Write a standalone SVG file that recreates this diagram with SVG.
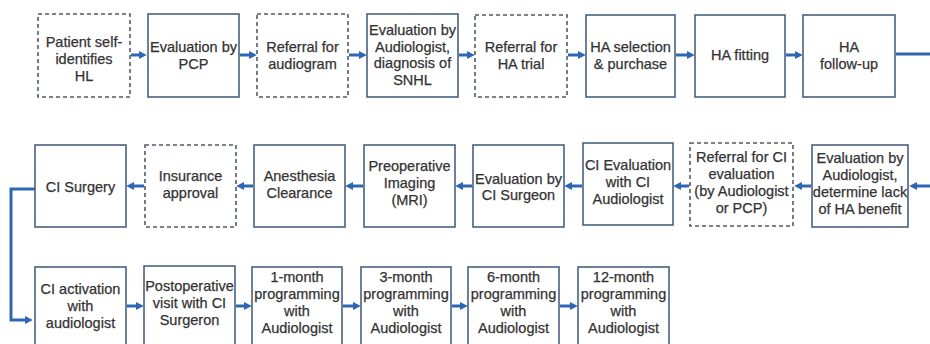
<svg xmlns="http://www.w3.org/2000/svg" width="930" height="344" viewBox="0 0 930 344">
<defs>
<style>
.box{fill:#ffffff;stroke:#4a6080;stroke-width:1.6}
.dash{fill:#ffffff;stroke:#505a66;stroke-width:1.6;stroke-dasharray:4 3}
.t{font-family:"Liberation Sans",Arial,sans-serif;font-size:14.5px;fill:#333333;stroke:#333333;stroke-width:0.25;text-anchor:middle}
.c{fill:none;stroke:#2d66b2;stroke-width:3}
</style>
<marker id="ah" viewBox="0 0 10 10" refX="4" refY="5" markerWidth="8" markerHeight="9" markerUnits="userSpaceOnUse" orient="auto">
<path d="M0,0 L10,5 L0,10 z" fill="#2d66b2"/>
</marker>
</defs>
<rect width="930" height="344" fill="#ffffff"/>

<g id="connectors">
<path class="c" marker-end="url(#ah)" d="M131,55 H142"/>
<path class="c" marker-end="url(#ah)" d="M240,55 H252"/>
<path class="c" marker-end="url(#ah)" d="M349,55 H362"/>
<path class="c" marker-end="url(#ah)" d="M459,55 H470"/>
<path class="c" marker-end="url(#ah)" d="M568,55 H581"/>
<path class="c" marker-end="url(#ah)" d="M676,55 H690"/>
<path class="c" marker-end="url(#ah)" d="M786,55 H798"/>
<path class="c" d="M896,54 H930"/>

<path class="c" marker-end="url(#ah)" d="M930,186 H914"/>
<path class="c" marker-end="url(#ah)" d="M811,186 H799"/>
<path class="c" marker-end="url(#ah)" d="M689,186 H678"/>
<path class="c" marker-end="url(#ah)" d="M582,186 H569"/>
<path class="c" marker-end="url(#ah)" d="M472,186 H460"/>
<path class="c" marker-end="url(#ah)" d="M363,186 H350"/>
<path class="c" marker-end="url(#ah)" d="M253,186 H241"/>
<path class="c" marker-end="url(#ah)" d="M144,186 H131"/>

<path class="c" marker-end="url(#ah)" d="M35,189 H11 V320 H28"/>

<path class="c" marker-end="url(#ah)" d="M127,306 H139"/>
<path class="c" marker-end="url(#ah)" d="M236,306 H247"/>
<path class="c" marker-end="url(#ah)" d="M343,306 H356"/>
<path class="c" marker-end="url(#ah)" d="M452,306 H463"/>
<path class="c" marker-end="url(#ah)" d="M560,306 H573"/>
</g>

<!-- Row 1 -->
<g id="n1"><rect class="dash" x="38" y="14" width="92" height="83"/>
<text class="t" x="84" y="47">Patient self-</text><text class="t" x="84" y="64">identifies</text><text class="t" x="84" y="81">HL</text></g>
<g id="n2"><rect class="box" x="148" y="14" width="91" height="83"/>
<text class="t" x="193.5" y="52">Evaluation by</text><text class="t" x="193.5" y="69">PCP</text></g>
<g id="n3"><rect class="dash" x="257" y="14" width="91" height="83"/>
<text class="t" x="302.5" y="52">Referral for</text><text class="t" x="302.5" y="69">audiogram</text></g>
<g id="n4"><rect class="box" x="367" y="14" width="91" height="83"/>
<text class="t" x="412.5" y="35">Evaluation by</text><text class="t" x="412.5" y="51.5">Audiologist,</text><text class="t" x="412.5" y="68">diagnosis of</text><text class="t" x="412.5" y="84.5">SNHL</text></g>
<g id="n5"><rect class="dash" x="475" y="15" width="92" height="82"/>
<text class="t" x="521" y="52">Referral for</text><text class="t" x="521" y="69">HA trial</text></g>
<g id="n6"><rect class="box" x="586" y="15" width="89" height="82"/>
<text class="t" x="630.5" y="52">HA selection</text><text class="t" x="630.5" y="69">&amp; purchase</text></g>
<g id="n7"><rect class="box" x="695" y="15" width="90" height="82"/>
<text class="t" x="740" y="60">HA fitting</text></g>
<g id="n8"><rect class="box" x="803" y="15" width="92" height="82"/>
<text class="t" x="849" y="52">HA</text><text class="t" x="849" y="69">follow-up</text></g>

<!-- Row 2 -->
<g id="n9"><rect class="box" x="812" y="145" width="96" height="82"/>
<text class="t" x="860" y="163">Evaluation by</text><text class="t" x="860" y="180">Audiologist,</text><text class="t" x="860" y="197">determine lack</text><text class="t" x="860" y="214">of HA benefit</text></g>
<g id="n10"><rect class="dash" x="690" y="143" width="103" height="83"/>
<text class="t" x="741.5" y="162">Referral for CI</text><text class="t" x="741.5" y="179">evaluation</text><text class="t" x="741.5" y="196">(by Audiologist</text><text class="t" x="741.5" y="213">or PCP)</text></g>
<g id="n11"><rect class="box" x="583" y="143" width="90" height="82"/>
<text class="t" x="628" y="170">CI Evaluation</text><text class="t" x="628" y="187">with CI</text><text class="t" x="628" y="204">Audiologist</text></g>
<g id="n12"><rect class="box" x="473" y="145" width="91" height="82"/>
<text class="t" x="518.5" y="184">Evaluation by</text><text class="t" x="518.5" y="200">CI Surgeon</text></g>
<g id="n13"><rect class="box" x="364" y="145" width="91" height="82"/>
<text class="t" x="409.5" y="171">Preoperative</text><text class="t" x="409.5" y="188">Imaging</text><text class="t" x="409.5" y="205">(MRI)</text></g>
<g id="n14"><rect class="box" x="254" y="145" width="91" height="82"/>
<text class="t" x="299.5" y="181">Anesthesia</text><text class="t" x="299.5" y="198">Clearance</text></g>
<g id="n15"><rect class="dash" x="145" y="145" width="91" height="82"/>
<text class="t" x="190.5" y="181">Insurance</text><text class="t" x="190.5" y="198">approval</text></g>
<g id="n16"><rect class="box" x="35" y="145" width="91" height="82"/>
<text class="t" x="80.5" y="192">CI Surgery</text></g>

<!-- Row 3 -->
<g id="n17"><rect class="box" x="35" y="267" width="91" height="84"/>
<text class="t" x="80.5" y="294">CI activation</text><text class="t" x="80.5" y="311">with</text><text class="t" x="80.5" y="328">audiologist</text></g>
<g id="n18"><rect class="box" x="144" y="266" width="91" height="85"/>
<text class="t" x="189.5" y="291">Postoperative</text><text class="t" x="189.5" y="308">visit with CI</text><text class="t" x="189.5" y="325">Surgeron</text></g>
<g id="n19"><rect class="box" x="252" y="267" width="90" height="84"/>
<text class="t" x="297" y="282">1-month</text><text class="t" x="297" y="299">programming</text><text class="t" x="297" y="316">with</text><text class="t" x="297" y="333">Audiologist</text></g>
<g id="n20"><rect class="box" x="361" y="267" width="90" height="84"/>
<text class="t" x="406" y="282">3-month</text><text class="t" x="406" y="299">programming</text><text class="t" x="406" y="316">with</text><text class="t" x="406" y="333">Audiologist</text></g>
<g id="n21"><rect class="box" x="468" y="267" width="91" height="84"/>
<text class="t" x="513.5" y="282">6-month</text><text class="t" x="513.5" y="299">programming</text><text class="t" x="513.5" y="316">with</text><text class="t" x="513.5" y="333">Audiologist</text></g>
<g id="n22"><rect class="box" x="578" y="267" width="91" height="84"/>
<text class="t" x="623.5" y="282">12-month</text><text class="t" x="623.5" y="299">programming</text><text class="t" x="623.5" y="316">with</text><text class="t" x="623.5" y="333">Audiologist</text></g>
</svg>
